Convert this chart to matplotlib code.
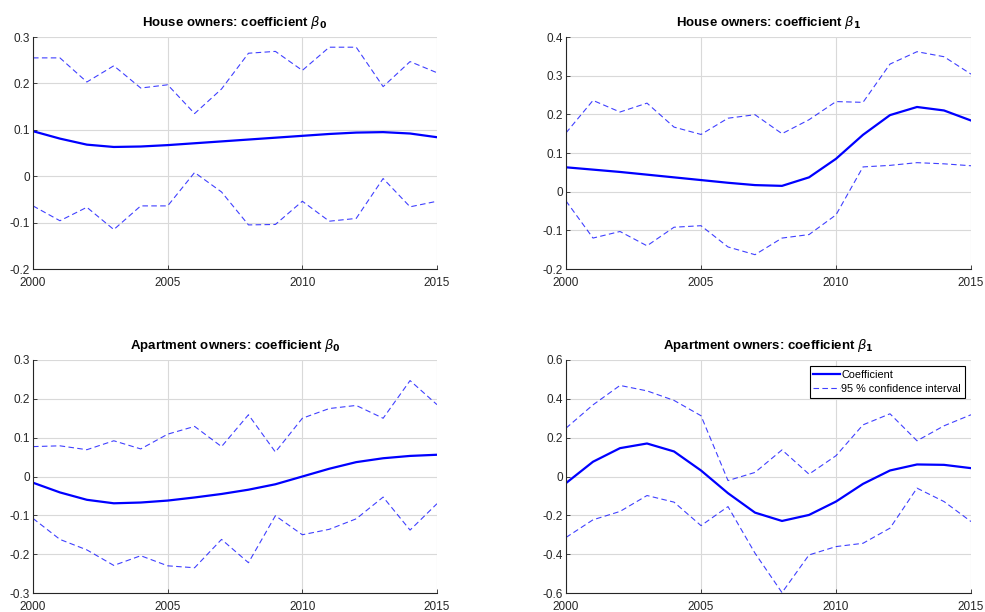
import numpy as np
import matplotlib
matplotlib.use("Agg")
import matplotlib.pyplot as plt

plt.rcParams["font.family"] = ["Liberation Sans", "DejaVu Sans"]

years = np.arange(2000, 2016)

# House owners, beta_0
house_b0 = [0.097, 0.081, 0.068, 0.063, 0.064, 0.067, 0.071, 0.075, 0.079, 0.083,
            0.087, 0.091, 0.094, 0.095, 0.092, 0.084]
house_b0_hi = [0.255, 0.255, 0.203, 0.238, 0.190, 0.197, 0.135, 0.188, 0.265, 0.269,
               0.228, 0.278, 0.278, 0.193, 0.247, 0.223]
house_b0_lo = [-0.064, -0.096, -0.067, -0.115, -0.064, -0.064, 0.008, -0.034, -0.105, -0.104,
               -0.054, -0.097, -0.091, -0.005, -0.066, -0.054]

# House owners, beta_1
house_b1 = [0.063, 0.057, 0.051, 0.044, 0.037, 0.030, 0.023, 0.017, 0.015, 0.037,
            0.085, 0.147, 0.198, 0.219, 0.210, 0.184]
house_b1_hi = [0.152, 0.236, 0.206, 0.229, 0.167, 0.148, 0.190, 0.199, 0.150, 0.186,
               0.233, 0.231, 0.330, 0.362, 0.349, 0.304]
house_b1_lo = [-0.024, -0.120, -0.103, -0.140, -0.092, -0.088, -0.143, -0.163, -0.120, -0.111,
               -0.060, 0.064, 0.068, 0.075, 0.072, 0.067]

# Apartment owners, beta_0
apt_b0 = [-0.016, -0.041, -0.060, -0.069, -0.067, -0.062, -0.054, -0.045, -0.034, -0.020,
          0.000, 0.020, 0.037, 0.047, 0.053, 0.056]
apt_b0_hi = [0.077, 0.079, 0.069, 0.092, 0.071, 0.109, 0.129, 0.077, 0.159, 0.063,
             0.150, 0.175, 0.183, 0.150, 0.247, 0.185]
apt_b0_lo = [-0.108, -0.162, -0.189, -0.229, -0.204, -0.230, -0.235, -0.162, -0.222, -0.101,
             -0.150, -0.136, -0.109, -0.053, -0.138, -0.070]

# Apartment owners, beta_1
apt_b1 = [-0.034, 0.076, 0.146, 0.170, 0.129, 0.031, -0.086, -0.186, -0.229, -0.198,
          -0.129, -0.038, 0.031, 0.062, 0.060, 0.043]
apt_b1_hi = [0.249, 0.369, 0.469, 0.441, 0.392, 0.313, -0.021, 0.021, 0.137, 0.012,
             0.107, 0.266, 0.323, 0.184, 0.261, 0.318]
apt_b1_lo = [-0.314, -0.223, -0.180, -0.098, -0.132, -0.253, -0.155, -0.395, -0.598, -0.404,
             -0.361, -0.344, -0.266, -0.060, -0.129, -0.232]

panels = [
    ("House owners: coefficient $\\beta_\\mathbf{0}$", house_b0, house_b0_lo, house_b0_hi, (-0.2, 0.3), np.arange(-0.2, 0.31, 0.1)),
    ("House owners: coefficient $\\beta_\\mathbf{1}$", house_b1, house_b1_lo, house_b1_hi, (-0.2, 0.4), np.arange(-0.2, 0.41, 0.1)),
    ("Apartment owners: coefficient $\\beta_\\mathbf{0}$", apt_b0, apt_b0_lo, apt_b0_hi, (-0.3, 0.3), np.arange(-0.3, 0.31, 0.1)),
    ("Apartment owners: coefficient $\\beta_\\mathbf{1}$", apt_b1, apt_b1_lo, apt_b1_hi, (-0.6, 0.6), np.arange(-0.6, 0.61, 0.2)),
]

W, H = 985, 612
boxes = [(33, 37, 404, 232), (566, 37, 405, 232), (33, 360, 404, 233), (566, 360, 405, 233)]

fig = plt.figure(figsize=(W / 100, H / 100), dpi=100)
dark = "#262626"

for i, (title, coef, lo, hi, ylim, yt) in enumerate(panels):
    x0, y0, w, h = boxes[i]
    ax = fig.add_axes([x0 / W, 1 - (y0 + h) / H, w / W, h / H])
    l1, = ax.plot(years, coef, color="#0000ff", lw=1.6, label="Coefficient")
    l2, = ax.plot(years, hi, color="#0000ff", lw=0.8, ls=(0, (5, 3)), alpha=0.75,
                  label="95 % confidence interval")
    ax.plot(years, lo, color="#0000ff", lw=0.8, ls=(0, (5, 3)), alpha=0.75)
    ax.set_xlim(2000, 2015)
    ax.set_ylim(*ylim)
    ax.set_xticks([2000, 2005, 2010, 2015])
    ax.set_yticks(yt)
    ax.set_yticklabels(["0" if abs(v) < 1e-9 else f"{v:.1f}" for v in yt])
    ax.grid(True, color="#d9d9d9", lw=0.8)
    ax.set_axisbelow(True)
    for s in ("top", "right"):
        ax.spines[s].set_visible(False)
    for s in ("left", "bottom"):
        ax.spines[s].set_color(dark)
        ax.spines[s].set_linewidth(0.8)
    ax.tick_params(direction="in", length=3, width=0.6, labelsize=8.5,
                   colors=dark, pad=2)
    ax.tick_params(axis="x", pad=6)
    ax.set_title(title, fontsize=9.5, fontweight="bold", pad=8)
    if i == 3:
        leg = ax.legend(handles=[l1, l2], loc="upper right", fontsize=7.8,
                        fancybox=False, framealpha=1, edgecolor="black",
                        borderpad=0.35, handlelength=2.5, handletextpad=0.1,
                        labelspacing=0.4, borderaxespad=0.55)
        leg.get_frame().set_linewidth(0.8)

fig.savefig("out.png", dpi=100)
